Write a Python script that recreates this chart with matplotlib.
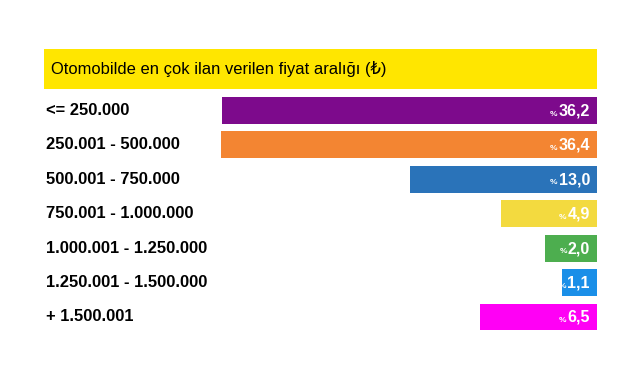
import numpy as np
import matplotlib
matplotlib.use("Agg")
from matplotlib import pyplot as plt
from matplotlib.patches import Rectangle

plt.rcParams['font.family'] = ['Liberation Sans', 'DejaVu Sans']

# data
title = "Otomobilde en çok ilan verilen fiyat aralığı (₺)"
ranges = ["<= 250.000", "250.001 - 500.000", "500.001 - 750.000",
          "750.001 - 1.000.000", "1.000.001 - 1.250.000",
          "1.250.001 - 1.500.000", "+ 1.500.001"]
shares = [36.2, 36.4, 13.0, 4.9, 2.0, 1.1, 6.5]

bar_colors = ["#7D0A8C", "#F38532", "#2A73B9", "#F3DA3F",
              "#4DAE4F", "#1A8FE8", "#FF00F5"]

W, H = 641, 380
fig = plt.figure(figsize=(W / 100, H / 100), dpi=100)

# yellow header strip
fig.add_artist(Rectangle((44 / W, 1 - 89 / H), 553 / W, 40 / H,
                         transform=fig.transFigure, color="#FFE600", lw=0))
fig.text(51 / W, 1 - 69 / H, title, fontsize=11.9, va="center", ha="left",
         color="black")

# bars grow from the right edge; the infographic uses a compressed scale
p = 0.68
ax = fig.add_axes([221 / W, 1 - 334.2 / H, 376 / W, (334.2 - 93.3) / H])
ax.set_xscale("function", functions=(lambda x: np.sign(x) * np.abs(x) ** p,
                                     lambda x: np.sign(x) * np.abs(x) ** (1 / p)))
ypos = np.arange(len(ranges))
ax.barh(ypos, shares, height=0.78, color=bar_colors)
ax.set_xlim(max(shares), 0)
ax.set_ylim(len(ranges) - 0.5, -0.5)
ax.axis("off")

label_tr = matplotlib.transforms.blended_transform_factory(fig.transFigure, ax.transData)
for i, lab in enumerate(ranges):
    ax.text(46 / W, i, lab, transform=label_tr, fontsize=11.9, fontweight="bold",
            va="center", ha="left", color="black")

for i, v in enumerate(shares):
    num = ax.annotate(f"{v:.1f}".replace(".", ","), xy=(0, i),
                      xytext=(-7, -5), textcoords="offset pixels",
                      ha="right", va="baseline", fontsize=11.5,
                      fontweight="bold", color="white")
    ax.annotate("%", xy=(0, i), xycoords=(num, ax.transData),
                xytext=(-1, -5), textcoords="offset pixels",
                ha="right", va="baseline", fontsize=6,
                fontweight="bold", color="white")

fig.savefig("out.png", dpi=100)
